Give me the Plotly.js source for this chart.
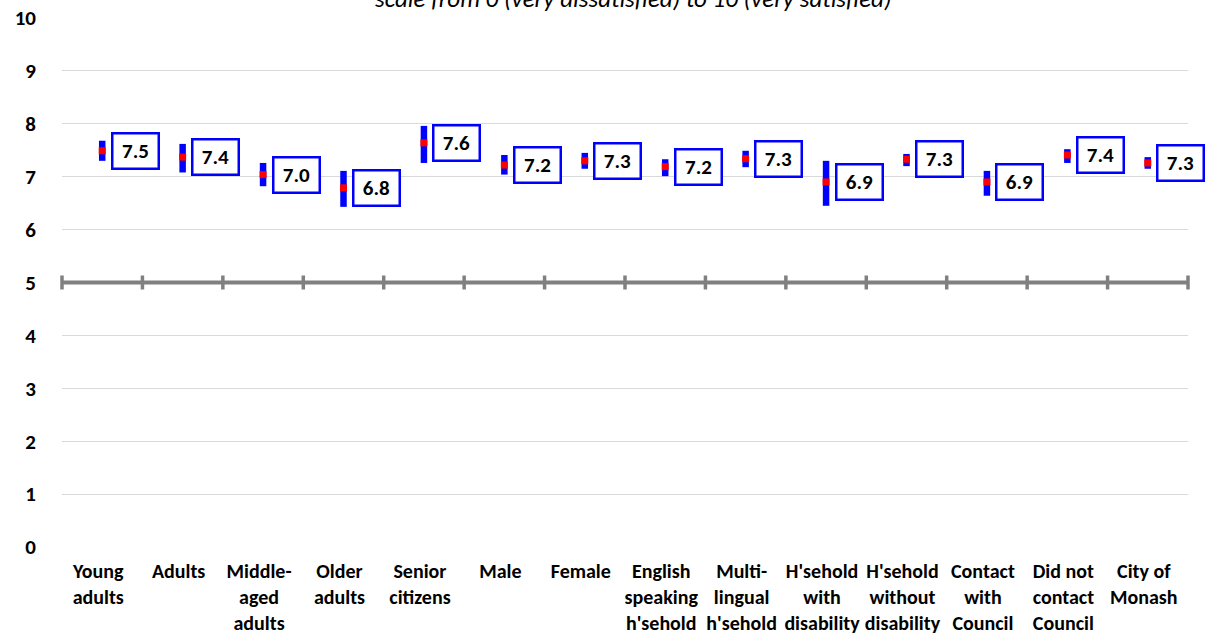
<!DOCTYPE html>
<html>
<head>
<meta charset="utf-8">
<script src="https://cdn.plot.ly/plotly-3.0.1.min.js"></script>
<style>html,body{margin:0;padding:0;background:#fff;}#chart{width:1207px;height:635px;}</style>
</head>
<body>
<div id="chart"></div>
<script>
const categories = ["Young<br>adults","Adults","Middle-<br>aged<br>adults","Older<br>adults","Senior<br>citizens","Male","Female","English<br>speaking<br>h'sehold","Multi-<br>lingual<br>h'sehold","H'sehold<br>with<br>disability","H'sehold<br>without<br>disability","Contact<br>with<br>Council","Did not<br>contact<br>Council","City of<br>Monash"];
const meanScore = [7.49,7.37,7.04,6.79,7.64,7.22,7.30,7.19,7.34,6.90,7.33,6.90,7.41,7.26];
const upperCI   = [7.68,7.62,7.26,7.11,7.96,7.41,7.45,7.33,7.49,7.30,7.43,7.11,7.52,7.37];
const lowerCI   = [7.30,7.08,6.82,6.43,7.26,7.04,7.15,7.01,7.18,6.45,7.20,6.64,7.26,7.15];
const yTicks = [0,1,2,3,4,5,6,7,8,9,10];
const neutralLine = 5;
const subtitle = "scale from 0 (very dissatisfied) to 10 (very satisfied)";

const FONT = "Carlito, Lato, 'Open Sans', sans-serif";
const idx = categories.map((c,i)=>i);

const traces = [
  {
    type: 'scatter', mode: 'markers',
    x: idx, y: meanScore,
    marker: {symbol: 'square', size: 7, color: '#ff0000'},
    error_y: {
      type: 'data', symmetric: false,
      array: upperCI.map((u,i)=>u-meanScore[i]),
      arrayminus: lowerCI.map((l,i)=>meanScore[i]-l),
      color: '#0000ff', thickness: 6.5, width: 0
    },
    hoverinfo: 'skip', showlegend: false
  },
  {
    type: 'scatter', mode: 'markers',
    x: idx.concat([categories.length]).map(i=>i-0.5),
    y: idx.concat([categories.length]).map(()=>neutralLine),
    marker: {symbol: 'line-ns', size: 10, line: {color: '#808080', width: 3.5}},
    hoverinfo: 'skip', showlegend: false, cliponaxis: false
  }
];

const annotations = meanScore.map((v,i)=>({
  x: i, y: v, xref: 'x', yref: 'y',
  text: '<b>' + v.toFixed(1) + '</b>',
  showarrow: false, xshift: 33,
  font: {family: FONT, size: 21, color: '#000'},
  bordercolor: '#0000ff', borderwidth: 2.5, borderpad: 1,
  bgcolor: '#ffffff', width: 42, height: 31
}));
annotations.push({
  xref: 'paper', yref: 'paper', x: 0.5, y: 1, xshift: 8, yshift: 2,
  text: '<i>' + subtitle + '</i>', showarrow: false,
  font: {family: FONT, size: 25, color: '#000'}, yanchor: 'bottom'
});

const layout = {
  width: 1207, height: 635,
  margin: {l: 62, r: 19, t: 18, b: 88},
  paper_bgcolor: '#fff', plot_bgcolor: '#fff',
  font: {family: FONT, color: '#000'},
  xaxis: {
    range: [-0.5, categories.length - 0.5],
    tickvals: idx, ticktext: categories.map(c=>'<b>'+c+'</b>'),
    showgrid: false, zeroline: false, showline: false, ticks: '',
    tickfont: {family: FONT, size: 20, color: '#000'}, tickangle: 0,
    ticklabelstandoff: 10, ticklabelshift: -4
  },
  yaxis: {
    range: [0, 10], tickvals: yTicks, ticktext: yTicks.map(t=>'<b>'+t+'</b>'),
    showgrid: true, gridcolor: '#d9d9d9', gridwidth: 1,
    zeroline: false, showline: false, ticks: '',
    tickfont: {family: FONT, size: 21, color: '#000'},
    ticklabelstandoff: 25
  },
  shapes: [{
    type: 'line', xref: 'paper', yref: 'y', x0: 0, x1: 1, y0: neutralLine, y1: neutralLine,
    line: {color: '#808080', width: 4}, layer: 'above'
  }],
  annotations: annotations
};

Plotly.newPlot('chart', traces, layout, {displayModeBar: false, staticPlot: true});
</script>
</body>
</html>
